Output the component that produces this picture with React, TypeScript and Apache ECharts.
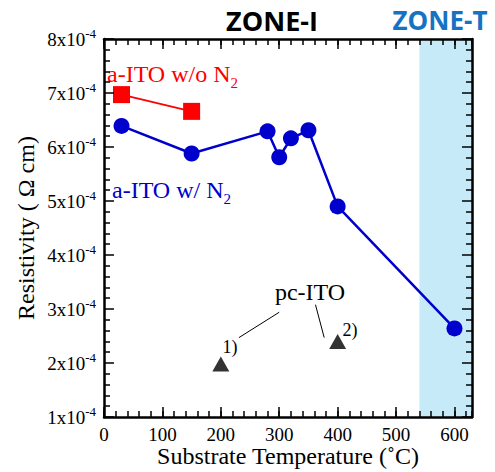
import React, { useEffect, useRef } from 'react';
import * as echarts from 'echarts';

// Resistivity values are in units of 1x10^-4 Ω cm
const tempWithoutN2 = [30, 150];
const resWithoutN2 = [6.97, 6.66];
const tempWithN2 = [30, 150, 280, 300, 320, 350, 400, 600];
const resWithN2 = [6.39, 5.88, 6.29, 5.81, 6.16, 6.31, 4.9, 2.64];
const tempPcITO = [200, 400];
const resPcITO = [1.98, 2.4];
const xTickLabels = ['0', '100', '200', '300', '400', '500', '600'];
const yTickLabels = ['1', '2', '3', '4', '5', '6', '7', '8'];
const zoneT = [540, 630];
// pc-ITO annotation leader lines [temp, resistivity]
const leader1 = [[300, 2.94], [231, 2.47]];
const leader2 = [[362, 3.08], [377, 2.47]];

const SERIF = "'Liberation Serif', 'Times New Roman', serif";
const SANS = "'Open Sans', 'Noto Sans', sans-serif";

export default function App() {
  const ref = useRef<HTMLDivElement>(null);
  useEffect(() => {
    document.body.style.margin = '0';
    if (!ref.current) return;
    const chart = echarts.init(ref.current, undefined, { renderer: 'svg' });
    const xMin = 0, xMax = 630, yMin = 1, yMax = 8;
    const axisLine = { show: true, onZero: false, lineStyle: { color: '#000', width: 2.5 } };
    const majorTick = { show: true, inside: true, length: 10, lineStyle: { color: '#000', width: 1.5 } };
    const minorTickX = { show: true, inside: true, length: 6, lineStyle: { color: '#000', width: 1.5 } };
    const baseX = (pos: string) => ({
      type: 'value', position: pos, min: xMin, max: xMax, z: 5,
      splitLine: { show: false },
    });
    const xLabelFmt = (v: number) => (xTickLabels.includes(String(v)) ? String(v) : '');
    const yLabelFmt = (v: number) => (yTickLabels.includes(String(v)) ? `{m|${v}x10}{s|-4}` : '');

    const option: any = {
      animation: false,
      grid: { left: 104, right: 23, top: 39, bottom: 55, outerBoundsMode: 'none', containLabel: false },
      xAxis: [
        {
          ...baseX('bottom'), interval: 100,
          axisLine, axisTick: majorTick,
          axisLabel: { show: true, margin: 8, fontFamily: SERIF, fontSize: 19, color: '#000', formatter: xLabelFmt, showMaxLabel: false },
          name: 'Substrate Temperature (˚C)', nameLocation: 'middle', nameGap: 27, nameMoveOverlap: false,
          nameTextStyle: { fontFamily: SERIF, fontSize: 24, color: '#000' },
        },
        { ...baseX('bottom'), interval: 20, axisLine: { show: false, onZero: false }, axisTick: minorTickX, axisLabel: { show: false } },
        { ...baseX('top'), interval: 100, axisLine, axisTick: majorTick, axisLabel: { show: false } },
        { ...baseX('top'), interval: 20, axisLine: { show: false, onZero: false }, axisTick: minorTickX, axisLabel: { show: false } },
      ],
      yAxis: [
        {
          type: 'value', position: 'left', min: yMin, max: yMax, interval: 1, z: 5,
          axisLine, axisTick: majorTick,
          minorTick: { show: true, splitNumber: 5, length: 6, lineStyle: { color: '#000', width: 1.5 } },
          splitLine: { show: false }, minorSplitLine: { show: false },
          axisLabel: {
            show: true, margin: 8, formatter: yLabelFmt,
            rich: {
              m: { fontFamily: SERIF, fontSize: 19, color: '#000', lineHeight: 24 },
              s: { fontFamily: SERIF, fontSize: 13, color: '#000', verticalAlign: 'top', lineHeight: 24 },
            },
          },
          name: 'Resistivity ( Ω cm)', nameLocation: 'middle', nameGap: 66, nameMoveOverlap: false,
          nameTextStyle: { fontFamily: SERIF, fontSize: 24, color: '#000' },
        },
        {
          type: 'value', position: 'right', min: yMin, max: yMax, interval: 1, z: 5,
          axisLine, axisTick: majorTick,
          minorTick: { show: true, splitNumber: 5, length: 6, lineStyle: { color: '#000', width: 1.5 } },
          splitLine: { show: false }, minorSplitLine: { show: false },
          axisLabel: { show: false },
        },
      ],
      series: [
        {
          name: 'zone-t', type: 'line', data: [], z: 1, silent: true,
          markArea: {
            silent: true,
            itemStyle: { color: '#c6eaf8' },
            data: [[{ xAxis: zoneT[0] }, { xAxis: zoneT[1] }]],
          },
        },
        {
          name: 'a-ITO w/o N2', type: 'line', xAxisIndex: 0, yAxisIndex: 0,
          data: tempWithoutN2.map((t, i) => [t, resWithoutN2[i]]),
          symbol: 'rect', symbolSize: 17,
          lineStyle: { color: '#ff0000', width: 2 },
          itemStyle: { color: '#ff0000' },
        },
        {
          name: 'a-ITO w/ N2', type: 'line', xAxisIndex: 0, yAxisIndex: 0,
          data: tempWithN2.map((t, i) => [t, resWithN2[i]]),
          symbol: 'circle', symbolSize: 16,
          lineStyle: { color: '#0000cc', width: 2.5 },
          itemStyle: { color: '#0000cc' },
        },
        {
          name: 'pc-ITO', type: 'scatter', xAxisIndex: 0, yAxisIndex: 0,
          data: tempPcITO.map((t, i) => [t, resPcITO[i]]),
          symbol: 'triangle', symbolSize: [17, 15],
          itemStyle: { color: '#000' },
          markLine: {
            silent: true, symbol: 'none', label: { show: false },
            lineStyle: { color: '#000', width: 1, type: 'solid' },
            data: [
              [{ coord: leader1[0] }, { coord: leader1[1] }],
              [{ coord: leader2[0] }, { coord: leader2[1] }],
            ],
          },
        },
      ],
      graphic: [
        { type: 'text', x: 272, y: 20, style: { text: 'ZONE-I', font: `bold 27px ${SANS}`, fill: '#000', align: 'center', verticalAlign: 'middle' } },
        { type: 'text', x: 440, y: 20, style: { text: 'ZONE-T', font: `bold 26px ${SANS}`, fill: '#1673c3', align: 'center', verticalAlign: 'middle' } },
        {
          type: 'text', x: 107, y: 74,
          style: {
            text: '{m|a-ITO w/o N}{s|2}', align: 'left', verticalAlign: 'middle',
            rich: {
              m: { fontFamily: SERIF, fontSize: 24, fill: '#ff0000', lineHeight: 32 },
              s: { fontFamily: SERIF, fontSize: 15, fill: '#ff0000', verticalAlign: 'bottom', lineHeight: 32 },
            },
          },
        },
        {
          type: 'text', x: 112, y: 190,
          style: {
            text: '{m|a-ITO w/ N}{s|2}', align: 'left', verticalAlign: 'middle',
            rich: {
              m: { fontFamily: SERIF, fontSize: 24, fill: '#0000cc', lineHeight: 32 },
              s: { fontFamily: SERIF, fontSize: 15, fill: '#0000cc', verticalAlign: 'bottom', lineHeight: 32 },
            },
          },
        },
        { type: 'text', x: 310, y: 292, style: { text: 'pc-ITO', font: `24px ${SERIF}`, fill: '#000', align: 'center', verticalAlign: 'middle' } },
        { type: 'text', x: 230, y: 347, style: { text: '1)', font: `18px ${SERIF}`, fill: '#000', align: 'center', verticalAlign: 'middle' } },
        { type: 'text', x: 350, y: 330, style: { text: '2)', font: `18px ${SERIF}`, fill: '#000', align: 'center', verticalAlign: 'middle' } },
      ],
    };
    chart.setOption(option);
    return () => chart.dispose();
  }, []);
  return <div ref={ref} style={{ width: 495, height: 472 }} />;
}
